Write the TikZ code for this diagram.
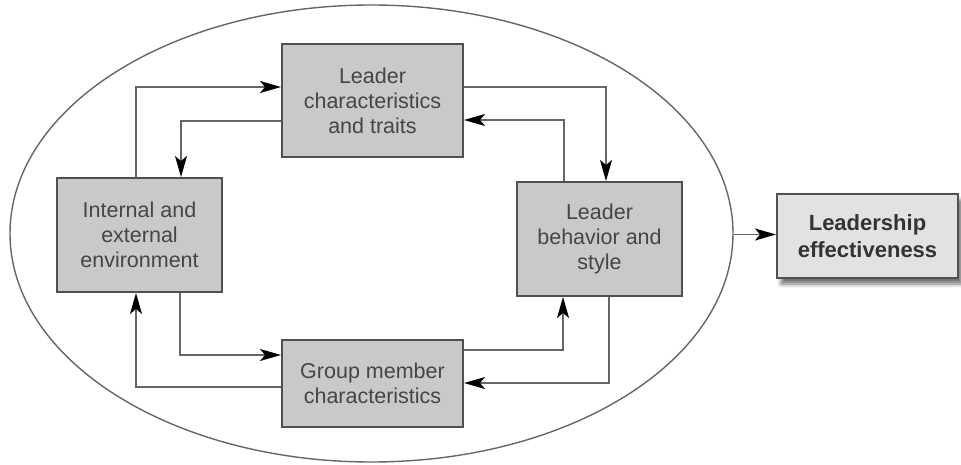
\documentclass[tikz,border=0pt]{standalone}
\usepackage{fontspec}
\setmainfont{Liberation Sans}
\usetikzlibrary{arrows.meta,shapes.geometric,shadows.blur}
\definecolor{boxfill}{HTML}{C9C9C9}
\definecolor{boxline}{HTML}{505050}
\definecolor{wire}{HTML}{666666}
\definecolor{txt}{HTML}{454545}
\definecolor{outfill}{HTML}{E2E2E2}
\tikzset{
  factor/.style={draw=boxline, line width=2pt, fill=boxfill, text=txt,
    align=center, inner sep=0pt,
    font=\fontsize{21.5}{25}\selectfont},
  outcome/.style={draw=boxline, line width=2pt, fill=outfill, text=black!80,
    align=center, inner sep=0pt,
    font=\fontsize{22}{27}\selectfont\bfseries,
    blur shadow={shadow xshift=4pt, shadow yshift=-6pt, shadow blur radius=4pt, shadow opacity=55}},
  link/.style={draw=wire, line width=1.5pt,
    -{Stealth[length=21pt,width=12pt,inset=5pt,color=black,fill=black]}},
}
\begin{document}
\begin{tikzpicture}[x=1pt,y=-1pt]
  \useasboundingbox (0,0) rectangle (961,465);
  % enclosing ellipse
  \node[ellipse, draw=wire, line width=1.4pt, minimum width=723pt,
        minimum height=457pt, inner sep=0pt] (ell) at (371.5,233.5) {};
  % the four interacting factors
  \node[factor, minimum width=181pt, minimum height=113pt] (top) at (372.5,100.5)
    {Leader\\characteristics\\and traits};
  \node[factor, minimum width=165pt, minimum height=114pt] (left) at (139.5,235)
    {Internal and\\external\\environment};
  \node[factor, minimum width=165pt, minimum height=114pt] (right) at (599.5,239)
    {Leader\\behavior and\\style};
  \node[factor, minimum width=181pt, minimum height=87pt] (bot) at (372.5,383.5)
    {Group member\\characteristics};
  % outcome
  \node[outcome, minimum width=181pt, minimum height=84pt] (le) at (867.5,236)
    {Leadership\\effectiveness};
  % feedback loops between the factors
  \draw[link] ([xshift=80pt]left.north west) |- ([yshift=-44pt]top.north west);
  \draw[link] ([yshift=-78pt]top.north west) -| ([xshift=125pt]left.north west);
  \draw[link] ([yshift=-44pt]top.north east) -| ([xshift=90pt]right.north west);
  \draw[link] ([xshift=48pt]right.north west) |- ([yshift=-77pt]top.north east);
  \draw[link] ([xshift=124pt]left.south west) |- ([yshift=-16pt]bot.north west);
  \draw[link] ([yshift=-48pt]bot.north west) -| ([xshift=80pt]left.south west);
  \draw[link] ([yshift=-11pt]bot.north east) -| ([xshift=47pt]right.south west);
  \draw[link] ([xshift=93pt]right.south west) |- ([yshift=-44pt]bot.north east);
  % effect on the outcome
  \draw[link] ([yshift=-1pt]ell.east) -- ([yshift=-1pt]ell.east -| le.west);
\end{tikzpicture}
\end{document}
